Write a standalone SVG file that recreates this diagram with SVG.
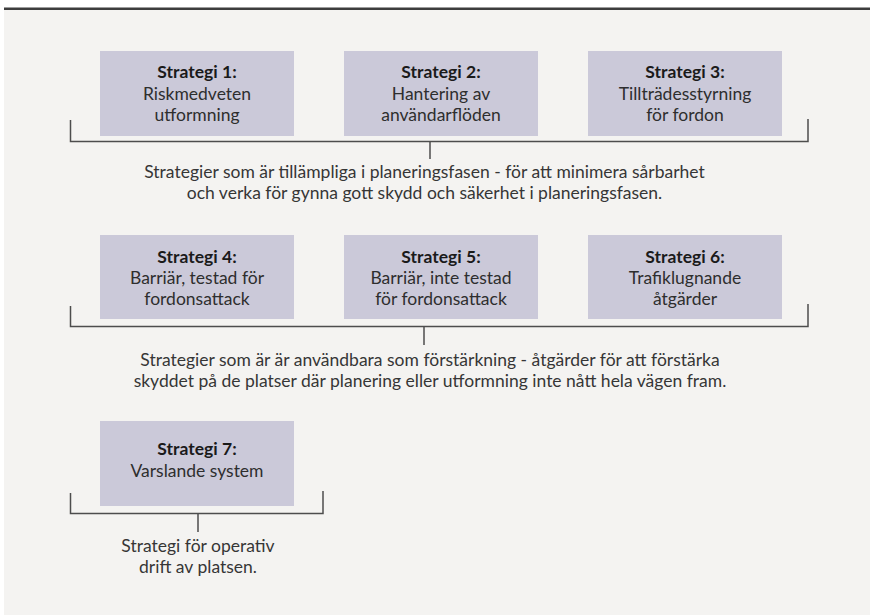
<svg xmlns="http://www.w3.org/2000/svg" width="870" height="615" viewBox="0 0 870 615">
  <style>
    .box { fill: #cbc9d9; }
    .line { fill: none; stroke: #4d4d4d; stroke-width: 1.5; }
    text { font-family: Lato, "Open Sans", "Liberation Sans", sans-serif; fill: #2e2e2e; text-anchor: middle; }
    .title { font-size: 17.5px; font-weight: bold; fill: #1a1a1a; }
    .body { font-size: 17.5px; }
    .note { font-size: 17.5px; fill: #363636; }
  </style>

  <!-- page -->
  <rect x="0" y="0" width="870" height="615" fill="#ffffff"/>
  <rect x="4" y="9" width="866" height="606" fill="#f4f3f1"/>
  <rect x="4" y="7.5" width="866" height="2.5" fill="#3d3d3d"/>

  <!-- connectors: brackets grouping the strategies -->
  <g id="connectors">
    <path class="line" d="M70.5,120 V141.5 H808 V119 M430,141.5 V159"/>
    <path class="line" d="M70.5,306 V326.5 H808 V304 M424,326.5 V345"/>
    <path class="line" d="M70.5,493 V513.5 H323 V491 M198,513.5 V532"/>
  </g>

  <!-- row 1 -->
  <g id="strategi-1">
    <rect class="box" x="100" y="51" width="194" height="85"/>
    <text class="title" x="197" y="77.5">Strategi 1:</text>
    <text class="body" x="197" y="99.5">Riskmedveten</text>
    <text class="body" x="197" y="120.5">utformning</text>
  </g>
  <g id="strategi-2">
    <rect class="box" x="344" y="51" width="194" height="85"/>
    <text class="title" x="441" y="77.5">Strategi 2:</text>
    <text class="body" x="441" y="99.5">Hantering av</text>
    <text class="body" x="441" y="120.5">användarflöden</text>
  </g>
  <g id="strategi-3">
    <rect class="box" x="588" y="51" width="194" height="85"/>
    <text class="title" x="685" y="77.5">Strategi 3:</text>
    <text class="body" x="685" y="99.5">Tillträdesstyrning</text>
    <text class="body" x="685" y="120.5">för fordon</text>
  </g>
  <g id="planeringsfas">
    <text class="note" x="424.5" y="178">Strategier som är tillämpliga i planeringsfasen - för att minimera sårbarhet</text>
    <text class="note" x="424.5" y="199">och verka för gynna gott skydd och säkerhet i planeringsfasen.</text>
  </g>

  <!-- row 2 -->
  <g id="strategi-4">
    <rect class="box" x="100" y="235" width="194" height="84"/>
    <text class="title" x="197" y="262.5">Strategi 4:</text>
    <text class="body" x="197" y="284">Barriär, testad för</text>
    <text class="body" x="197" y="305">fordonsattack</text>
  </g>
  <g id="strategi-5">
    <rect class="box" x="344" y="235" width="194" height="84"/>
    <text class="title" x="441" y="262.5">Strategi 5:</text>
    <text class="body" x="441" y="284">Barriär, inte testad</text>
    <text class="body" x="441" y="305">för fordonsattack</text>
  </g>
  <g id="strategi-6">
    <rect class="box" x="588" y="235" width="194" height="84"/>
    <text class="title" x="685" y="262.5">Strategi 6:</text>
    <text class="body" x="685" y="284">Trafiklugnande</text>
    <text class="body" x="685" y="305">åtgärder</text>
  </g>
  <g id="forstarkning">
    <text class="note" x="430" y="366">Strategier som är är användbara som förstärkning - åtgärder för att förstärka</text>
    <text class="note" x="430" y="387">skyddet på de platser där planering eller utformning inte nått hela vägen fram.</text>
  </g>

  <!-- row 3 -->
  <g id="strategi-7">
    <rect class="box" x="100" y="421" width="194" height="85"/>
    <text class="title" x="197" y="455">Strategi 7:</text>
    <text class="body" x="197" y="477">Varslande system</text>
  </g>
  <g id="operativ-drift">
    <text class="note" x="198" y="552">Strategi för operativ</text>
    <text class="note" x="198" y="573">drift av platsen.</text>
  </g>
</svg>
